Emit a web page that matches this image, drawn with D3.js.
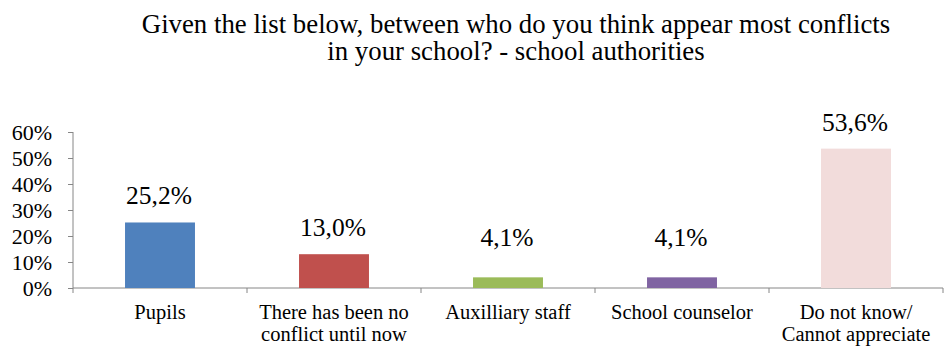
<!DOCTYPE html>
<html><head><meta charset="utf-8">
<script src="https://cdn.jsdelivr.net/npm/d3@7"></script>
<style>body{margin:0;background:#fff;}svg{display:block;} svg text{font-family:"Liberation Serif", "Times New Roman", Times, "DejaVu Serif", serif;}</style>
</head><body>
<script>
const categories = [["Pupils"], ["There has been no", "conflict until now"], ["Auxilliary staff"], ["School counselor"], ["Do not know/", "Cannot appreciate"]];
const values = [25.2, 13.0, 4.1, 4.1, 53.6];
const labels = ["25,2%", "13,0%", "4,1%", "4,1%", "53,6%"];
const colors = ["#4F81BD", "#C0504D", "#9BBB59", "#8064A2", "#F2DCDB"];
const yTicks = [0, 10, 20, 30, 40, 50, 60];
const titleLines = ["Given the list below, between who do you think appear most conflicts", "in your school? - school authorities"];

const W = 945, H = 346;
const svg = d3.select("body").append("svg").attr("width", W).attr("height", H);

svg.selectAll("text.title").data(titleLines).enter().append("text")
  .attr("x", 516).attr("y", (d, i) => 33 + i * 27)
  .attr("text-anchor", "middle").attr("font-size", 26.8)
  .attr("fill", "#000").text(d => d);

const x = d3.scaleBand().domain(d3.range(values.length)).range([73, 943]).paddingInner(0.598).paddingOuter(0.299);
const y = d3.scaleLinear().domain([0, 60]).range([288, 132]);

const axisColor = "#868686";
const ya = svg.append("g").attr("transform", "translate(73,0)")
  .call(d3.axisLeft(y).tickValues(yTicks).tickSize(5).tickPadding(16).tickFormat(d => d + "%"));
ya.attr("font-family", null);
ya.select(".domain").attr("stroke", axisColor).attr("d", `M0,${y(60)}V${y(0)}`);
ya.selectAll(".tick line").attr("stroke", axisColor);
ya.selectAll(".tick text").attr("font-size", 22).attr("fill", "#000");

const step = x.step();
const bounds = d3.range(values.length + 1).map(i => 73 + i * step);
svg.append("line").attr("x1", 73).attr("x2", 943).attr("y1", y(0)).attr("y2", y(0)).attr("stroke", axisColor);
svg.selectAll("line.xt").data(bounds).enter().append("line")
  .attr("x1", d => d).attr("x2", d => d).attr("y1", y(0)).attr("y2", y(0) + 5).attr("stroke", axisColor);

svg.selectAll("rect.bar").data(values).enter().append("rect")
  .attr("x", (d, i) => x(i)).attr("width", x.bandwidth())
  .attr("y", d => y(d)).attr("height", d => y(0) - y(d))
  .attr("fill", (d, i) => colors[i]);

svg.selectAll("text.dl").data(values).enter().append("text")
  .attr("x", (d, i) => x(i) + x.bandwidth() / 2 - 1)
  .attr("y", d => y(Math.max(d, 9.2)) - 18)
  .attr("text-anchor", "middle").attr("font-size", 25.5).attr("fill", "#000")
  .text((d, i) => labels[i]);

const cl = svg.selectAll("text.cl").data(categories).enter().append("text")
  .attr("text-anchor", "middle").attr("font-size", 20.5).attr("fill", "#000");
cl.selectAll("tspan").data((d, i) => d.map(t => ({t, i}))).enter().append("tspan")
  .attr("x", d => x(d.i) + x.bandwidth() / 2)
  .attr("y", (d, j) => 319 + j * 22)
  .text(d => d.t);
</script>
</body></html>
